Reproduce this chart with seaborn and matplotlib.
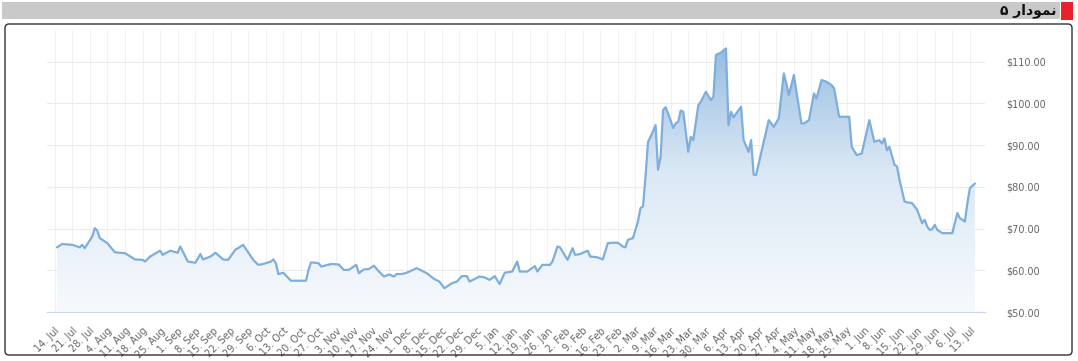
import numpy as np
import pandas as pd
import matplotlib
matplotlib.use("Agg")
import matplotlib.pyplot as plt
import matplotlib.dates as mdates
from matplotlib.colors import LinearSegmentedColormap
from matplotlib.patches import FancyBboxPatch, Rectangle
import seaborn as sns

# price series (days counted from 14 Jul 2021)
start_date = "2021-07-14"
days = [1, 3, 7, 10, 11, 12, 15, 16, 17, 18, 21, 24, 28, 32, 35, 36, 38, 42, 43, 46,
        49, 50, 53, 56, 58, 59, 62, 64, 67, 69, 72, 73, 75, 79, 81, 83, 86, 87, 88, 89,
        91, 94, 100, 101, 102, 105, 106, 110, 113, 115, 117, 120, 121, 123, 125, 127, 129, 131, 133, 135,
        136, 138, 140, 144, 148, 151, 153, 155, 158, 160, 162, 164, 165, 169, 171, 173, 175, 177, 179, 182,
        184, 185, 188, 191, 192, 194, 197, 198, 200, 201, 204, 206, 207, 209, 212, 213, 216, 218, 220, 222,
        224, 226, 227, 228, 230, 232, 233, 234, 235, 236, 237, 239, 240, 241, 242, 243, 244, 246, 247, 248,
        249, 250, 252, 253, 254, 256, 257, 259, 261, 262, 263, 265, 267, 268, 269, 270, 273, 274, 276, 277,
        278, 279, 281, 284, 286, 288, 290, 291, 292, 294, 297, 298, 300, 302, 303, 305, 307, 309, 310, 312,
        316, 317, 319, 321, 324, 326, 328, 329, 330, 331, 332, 334, 335, 336, 338, 339, 341, 343, 345, 346,
        347, 348, 349, 350, 351, 353, 357, 359, 360, 362, 363, 364, 366]
prices = [65.5, 66.3, 66.1, 65.5, 66.1, 65.3, 68.1, 70.1, 69.5, 67.7, 66.5, 64.3, 64.1, 62.6, 62.5, 62.1, 63.3, 64.7, 63.7, 64.7,
          64.2, 65.7, 62.1, 61.8, 63.9, 62.6, 63.3, 64.2, 62.6, 62.5, 65.0, 65.3, 66.1, 62.5, 61.3, 61.5, 62.1, 62.6, 61.7, 59.1,
          59.4, 57.5, 57.5, 60.1, 61.9, 61.7, 60.9, 61.5, 61.4, 60.1, 60.1, 61.3, 59.3, 60.2, 60.3, 61.1, 59.7, 58.5, 59.0, 58.5,
          59.1, 59.1, 59.4, 60.5, 59.3, 57.9, 57.3, 55.7, 56.9, 57.3, 58.6, 58.6, 57.3, 58.5, 58.3, 57.7, 58.6, 56.7, 59.4, 59.7,
          62.1, 59.7, 59.7, 61.0, 59.7, 61.3, 61.3, 62.1, 65.7, 65.5, 62.5, 65.3, 63.7, 63.9, 64.7, 63.3, 63.1, 62.6, 66.5, 66.6,
          66.6, 65.7, 65.5, 67.3, 67.7, 71.7, 74.9, 75.3, 82.4, 90.8, 92.0, 94.8, 84.1, 87.2, 98.4, 99.1, 97.6, 94.1, 95.2, 95.6,
          98.3, 98.0, 88.4, 92.0, 91.2, 99.6, 100.4, 102.8, 100.8, 101.6, 111.6, 112.2, 113.2, 94.8, 98.0, 96.7, 99.2, 91.2, 88.4, 91.2,
          82.9, 82.9, 88.1, 96.0, 94.4, 96.4, 107.2, 104.8, 102.0, 106.8, 95.2, 95.2, 96.0, 102.4, 101.2, 105.6, 105.2, 104.4, 103.6, 96.8,
          96.8, 89.6, 87.6, 88.0, 96.0, 90.8, 91.2, 90.4, 91.6, 88.8, 89.6, 85.3, 84.9, 81.7, 76.5, 76.3, 76.1, 74.5, 71.3, 72.1,
          70.5, 69.7, 69.8, 70.9, 69.7, 68.9, 68.9, 73.7, 72.5, 71.7, 76.1, 79.7, 80.8]

y_ticks = [50, 60, 70, 80, 90, 100, 110]
y_labels = ["$50.00", "$60.00", "$70.00", "$80.00", "$90.00", "$100.00", "$110.00"]
tick_dates = pd.date_range("2021-07-14", "2022-07-13", freq="7D")
x_labels = [f"{d.day}. {d.strftime('%b')}" for d in tick_dates]

# "نمودار ۵" in shaped visual order
title = "\u06F5 \uFEAD\uFE8D\uFEA9\uFEEE\uFEE4\uFEE7"

df = pd.DataFrame({"date": pd.Timestamp(start_date) + pd.to_timedelta(days, unit="D"),
                   "price": prices})

sns.set_style("white")
plt.rcParams["font.family"] = ["DejaVu Sans"]

fig = plt.figure(figsize=(10.78, 3.61), dpi=100)
ax = fig.add_axes([47 / 1078, 49 / 361, 938 / 1078, 282 / 361])

line_color = "#7eaedb"
sns.lineplot(data=df, x="date", y="price", ax=ax, color=line_color, linewidth=1.6, zorder=4)

ymin, ymax = 50, 117.6
x0 = pd.Timestamp(start_date) - pd.Timedelta(days=3)
x1 = pd.Timestamp(start_date) + pd.Timedelta(days=370)
ax.set_xlim(x0, x1)
ax.set_ylim(ymin, ymax)

# gradient area under the line
fill = ax.fill_between(df["date"], df["price"], ymin, color="none", lw=0)
cmap = LinearSegmentedColormap.from_list("grad", ["#f7fafd", "#dbe8f5", "#8db7df"])
grad = np.linspace(0, 1, 256).reshape(-1, 1)
im = ax.imshow(grad, cmap=cmap, aspect="auto", origin="lower",
               extent=[mdates.date2num(x0), mdates.date2num(x1), ymin, ymax], zorder=2)
im.set_clip_path(fill.get_paths()[0], transform=ax.transData)

# grid
for d in tick_dates:
    ax.axvline(d, color="#f1f1f1", lw=0.8, zorder=1)
for v in y_ticks:
    ax.axhline(v, color="#ececec", lw=0.8, zorder=1)

ax.set_xticks(tick_dates)
ax.set_xticklabels(x_labels)
plt.setp(ax.get_xticklabels(), rotation=45, ha="right", rotation_mode="anchor")
ax.tick_params(axis="x", length=7, width=0.8, color="#ccd6eb", labelsize=7, labelcolor="#666666", pad=3)

ax.yaxis.tick_right()
ax.set_yticks(y_ticks)
ax.set_yticklabels(y_labels)
ax.tick_params(axis="y", length=0, labelsize=7, labelcolor="#666666", pad=15)

ax.set_xlabel("")
ax.set_ylabel("")
for s in ["top", "left", "right"]:
    ax.spines[s].set_visible(False)
ax.spines["bottom"].set_color("#ccd6eb")
ax.spines["bottom"].set_linewidth(0.8)

# frame and header
fig.patches.append(FancyBboxPatch((5, 6), 1067, 331, boxstyle="round,pad=0,rounding_size=4",
                                  transform=None, fill=False, edgecolor="#333333", lw=1, zorder=0))
fig.patches.append(Rectangle((2, 342), 1058, 17, transform=None, facecolor="#c9c9c9", edgecolor="none"))
fig.patches.append(Rectangle((1061, 341), 12, 18, transform=None, facecolor="#e8212a", edgecolor="none"))
fig.text(1056 / 1078, 350 / 361, title, ha="right", va="center", fontsize=10,
         fontweight="bold", color="#111111", family=["DejaVu Sans"])

fig.savefig("out.png", dpi=100)
